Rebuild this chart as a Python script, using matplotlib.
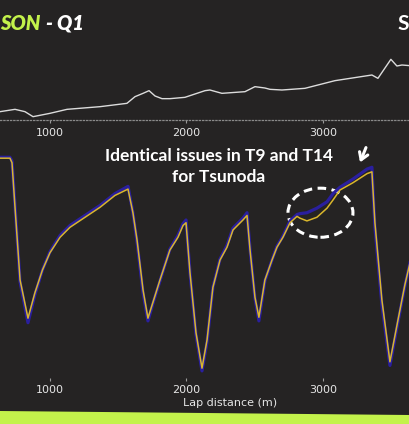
import matplotlib
matplotlib.use("Agg")
import matplotlib.pyplot as plt
from matplotlib.patches import Ellipse, Polygon

# ---------------- data ----------------
elev_dist = [634, 744, 817, 876, 1000, 1125, 1367, 1564, 1623, 1682, 1726, 1770, 1821, 1879,
             1989, 2077, 2136, 2172, 2260, 2429, 2502, 2575, 2612, 2700, 2868, 3088, 3359,
             3403, 3498, 3542, 3579, 3638]
elevation = [5.5, 6.2, 5.5, 4.0, 5.0, 6.2, 7.0, 8.0, 10.0, 11.0, 11.8, 10.2, 9.4, 9.4,
             9.8, 11.0, 11.8, 12.0, 11.0, 11.5, 13.0, 12.6, 12.2, 12.0, 12.5, 14.8, 16.5,
             15.5, 21.2, 19.2, 19.5, 19.3]

distance = [634, 707, 722, 744, 781, 839, 890, 945, 1000, 1074, 1147, 1257, 1367, 1476, 1572,
            1608, 1638, 1682, 1718, 1760, 1806, 1879, 1938, 1975, 1997, 2026, 2070, 2114, 2151,
            2194, 2246, 2297, 2341, 2414, 2444, 2466, 2502, 2531, 2575, 2627, 2663, 2707,
            2759, 2810, 2832, 2883, 2956, 3030, 3074, 3125, 3220, 3323, 3359, 3381, 3432,
            3491, 3550, 3601, 3638]
speed_tsunoda = [326, 326, 321, 272, 192, 150, 178, 203, 222, 239, 250, 261, 272, 285, 292,
                 266, 236, 181, 150, 170, 192, 225, 239, 252, 255, 200, 134, 95, 126,
                 184, 214, 228, 247, 258, 263, 225, 173, 151, 192, 214, 228, 239,
                 255, 262, 260, 257, 261, 271, 280, 291, 299, 309, 311, 255, 170,
                 102, 148, 187, 211]
speed_other = [327, 327, 323, 274, 190, 145, 176, 203, 223, 241, 252, 263, 274, 287, 295,
               266, 234, 178, 147, 169, 191, 226, 241, 254, 258, 200, 132, 92, 124,
               184, 215, 230, 249, 260, 266, 226, 172, 147, 191, 214, 229, 240,
               257, 264, 265, 266, 271, 278, 287, 294, 303, 314, 316, 250, 165,
               98, 146, 186, 211]

xticks = [1000, 2000, 3000]
title_driver = "SON"
title_session = "- Q1"
right_title = "S"
annotation = "Identical issues in T9 and T14\nfor Tsunoda"
xlabel = "Lap distance (m)"

# ---------------- style ----------------
BG = "#252323"
LIME = "#c3f24b"
BLUE = "#2a1f9e"
GOLD = "#d9b62c"
TXT = "#e6e6e6"
W, H = 410, 424


def fy(py):
    return 1 - py / H


fig = plt.figure(figsize=(W / 100, H / 100), dpi=100)
fig.patch.set_facecolor(BG)

ax_top = fig.add_axes([0, fy(120), 1, (120 - 45) / H])
ax_spd = fig.add_axes([0, fy(378), 1, (378 - 145) / H])

for ax in (ax_top, ax_spd):
    ax.set_facecolor(BG)
    ax.set_xlim(634, 3638)
    for s in ("left", "right", "top", "bottom"):
        ax.spines[s].set_visible(False)
    ax.set_yticks([])
    ax.set_xticks(xticks)
    ax.set_xticklabels([str(t) for t in xticks])
    ax.tick_params(axis="x", colors="#9a9a9a", labelcolor=TXT, labelsize=8,
                   length=2, width=0.8)

# elevation panel
ax_top.plot(elev_dist, elevation, color="#dcdcdc", lw=1.0)
ax_top.set_ylim(3.0, 25.5)
ax_top.spines["bottom"].set_visible(True)
ax_top.spines["bottom"].set_color("#8a8a8a")
ax_top.spines["bottom"].set_linestyle(":")
ax_top.spines["bottom"].set_linewidth(0.9)
ax_top.tick_params(axis="x", pad=4)

# speed panel
ax_spd.plot(distance, speed_other, color=BLUE, lw=2.3, solid_joinstyle="round")
ax_spd.plot(distance, speed_tsunoda, color=GOLD, lw=1.1)
ax_spd.set_ylim(84.2, 340.5)
ax_spd.tick_params(axis="x", pad=3)
ax_spd.set_xlabel(xlabel, color=TXT, fontsize=8, labelpad=2)
ax_spd.xaxis.label.set_position((230 / W, 0))
ax_spd.xaxis.label.set_horizontalalignment("center")

# dashed ellipse highlighting T14
ell = Ellipse((2982, 266), 476, 54, fill=False, edgecolor="white", lw=2.2,
              linestyle=(0, (2.8, 1.8)))
ax_spd.add_patch(ell)

# annotation text and arrow
fig.text(219 / W, fy(166.5), annotation, ha="center", va="center", color="white",
         fontsize=12.5, fontweight="bold", family=["Lato", "DejaVu Sans"], linespacing=1.45)
ax_spd.annotate("", xy=(359, H - 165), xycoords="figure pixels",
                xytext=(367, H - 145), textcoords="figure pixels",
                arrowprops=dict(arrowstyle="->,head_length=0.5,head_width=0.32",
                                color="white", lw=2.2))

# titles
fig.text(41 / W, fy(23), title_driver, ha="right", va="center", color=LIME,
         fontsize=14.5, fontweight="heavy", fontstyle="italic", family=["Lato", "DejaVu Sans"])
fig.text(46 / W, fy(23), title_session, ha="left", va="center", color="white",
         fontsize=14.5, fontweight="heavy", fontstyle="italic", family=["Lato", "DejaVu Sans"])
fig.text(409 / W, fy(24), right_title, ha="right", va="center", color="white",
         fontsize=15, fontweight="bold", family=["Lato", "DejaVu Sans"])

# lime footer bar
bar = Polygon([(0, 0), (0, 13 / H), (1, 9 / H), (1, 0)], closed=True,
              transform=fig.transFigure, facecolor=LIME, edgecolor="none")
fig.add_artist(bar)

fig.savefig("out.png", dpi=100, facecolor=BG)
